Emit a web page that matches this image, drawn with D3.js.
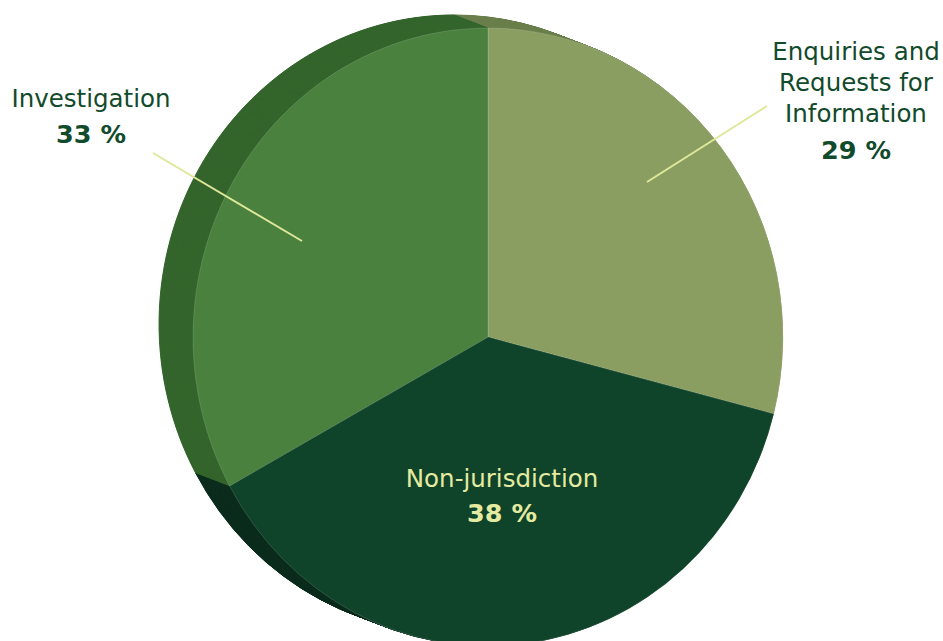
<!DOCTYPE html>
<html><head><meta charset="utf-8">
<script src="https://cdn.jsdelivr.net/npm/d3@7"></script>
<style>html,body{margin:0;padding:0;background:#fff;overflow:hidden}</style>
</head><body>
<svg id="chart" width="943" height="641"></svg>
<script>
const categories = ["Enquiries and Requests for Information", "Non-jurisdiction", "Investigation"];
const labelLines = [["Enquiries and", "Requests for", "Information"], ["Non-jurisdiction"], ["Investigation"]];
const values = [29, 38, 33];
const valueLabels = ["29 %", "38 %", "33 %"];
const frontColors = ["#8a9e62", "#0f442b", "#4a813e"];
const sideColors = ["#6a7f4b", "#0c2d1d", "#34652c"];

const svg = d3.select("#chart");
const W = 943, H = 641;
const cx = 488, cy = 337, rx = 295, ry = 309;
const depthX = -34, depthY = -13, steps = 48;

const pie = d3.pie().sort(null).value(d => d)(values);
const arc = d3.arc().innerRadius(0).outerRadius(1);

// extrusion (side) drawn back-to-front
const sideG = svg.append("g");
for (let k = steps; k >= 1; k--) {
  const t = k / steps;
  const g = sideG.append("g").attr("transform", `translate(${cx + depthX * t},${cy + depthY * t}) scale(${rx},${ry})`);
  g.selectAll("path").data(pie).join("path")
    .attr("d", arc)
    .attr("fill", (d, i) => sideColors[i])
    .attr("stroke", (d, i) => sideColors[i])
    .attr("stroke-width", 1)
    .attr("vector-effect", "non-scaling-stroke");
}

// front face
const front = svg.append("g").attr("transform", `translate(${cx},${cy}) scale(${rx},${ry})`);
front.selectAll("path").data(pie).join("path")
  .attr("d", arc)
  .attr("fill", (d, i) => frontColors[i])
  .attr("stroke", "rgba(255,255,255,0.2)")
  .attr("stroke-width", 0.7)
  .attr("vector-effect", "non-scaling-stroke");

// leader lines
const leaderColor = "#dfe89a";
const leaders = [
  {i: 0, x1: cx + 159, y1: cy - 155, x2: 767, y2: 106},
  {i: 2, x1: cx - 186, y1: cy - 96, x2: 153, y2: 153}
];
svg.selectAll("line.leader").data(leaders).join("line")
  .attr("class", "leader")
  .attr("x1", d => d.x1).attr("y1", d => d.y1)
  .attr("x2", d => d.x2).attr("y2", d => d.y2)
  .attr("stroke", leaderColor).attr("stroke-width", 2);

// labels
const font = "'DejaVu Sans', sans-serif";
const labelPos = [
  {x: 856, y: 60, color: "#124a2c", lineH: 31, pctGap: 37},
  {x: 502, y: 487, color: "#e4eaa0", lineH: 31, pctGap: 35},
  {x: 91, y: 107, color: "#124a2c", lineH: 31, pctGap: 36}
];
labelPos.forEach((p, i) => {
  const g = svg.append("g");
  const lines = labelLines[i];
  lines.forEach((ln, j) => {
    g.append("text").attr("x", p.x).attr("y", p.y + j * p.lineH)
      .attr("text-anchor", "middle").attr("font-family", font)
      .attr("font-size", 24.5).attr("font-weight", "normal").attr("fill", p.color)
      .text(ln);
  });
  g.append("text").attr("x", p.x).attr("y", p.y + (lines.length - 1) * p.lineH + p.pctGap)
    .attr("text-anchor", "middle").attr("font-family", font)
    .attr("font-size", 25.5).attr("font-weight", "bold").attr("fill", p.color)
    .text(valueLabels[i]);
});
</script>
</body></html>
